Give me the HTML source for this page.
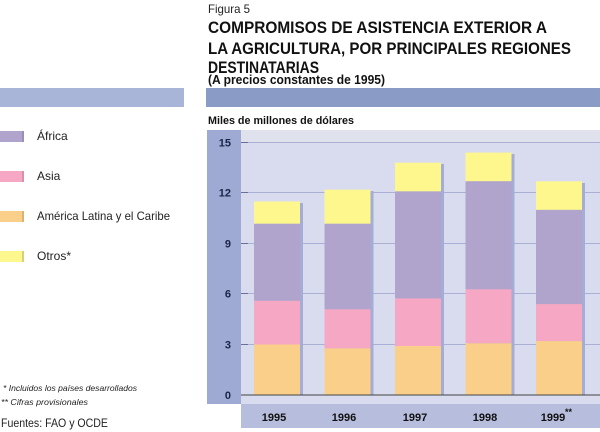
<!DOCTYPE html>
<html><head><meta charset="utf-8"><style>
html,body{margin:0;padding:0;background:#fff;}
svg{display:block;font-family:"Liberation Sans",sans-serif;}
</style></head><body>
<svg width="600" height="432" viewBox="0 0 600 432" xmlns="http://www.w3.org/2000/svg">
<rect width="600" height="432" fill="#fff"/>
<!-- Title -->
<text x="208" y="13" font-size="12" fill="#222" textLength="42" lengthAdjust="spacingAndGlyphs">Figura 5</text>
<text x="208" y="33" font-size="17" font-weight="bold" fill="#111" textLength="339" lengthAdjust="spacingAndGlyphs">COMPROMISOS DE ASISTENCIA EXTERIOR A</text>
<text x="208" y="54" font-size="17" font-weight="bold" fill="#111" textLength="363" lengthAdjust="spacingAndGlyphs">LA AGRICULTURA, POR PRINCIPALES REGIONES</text>
<text x="208" y="73" font-size="17" font-weight="bold" fill="#111" textLength="111" lengthAdjust="spacingAndGlyphs">DESTINATARIAS</text>
<text x="208" y="84" font-size="12.5" font-weight="bold" fill="#111" textLength="177" lengthAdjust="spacingAndGlyphs">(A precios constantes de 1995)</text>
<!-- bands -->
<rect x="0" y="88" width="184" height="19" fill="#a9b4d9"/>
<rect x="206" y="88" width="394" height="19" fill="#8a9cc6"/>
<text x="208" y="124" font-size="11" font-weight="bold" fill="#111" textLength="146" lengthAdjust="spacingAndGlyphs">Miles de millones de dólares</text>
<!-- legend -->
<rect x="0" y="131" width="24" height="11" fill="#b1a4cc"/>
<rect x="22" y="131" width="2" height="11" fill="#9a8fbb"/>
<text x="37" y="140" font-size="12" fill="#222">África</text>
<rect x="0" y="171" width="24" height="11" fill="#f5a7c3"/>
<rect x="22" y="171" width="2" height="11" fill="#d890ab"/>
<text x="37" y="180" font-size="12" fill="#222">Asia</text>
<rect x="0" y="211" width="24" height="11" fill="#f9cf89"/>
<rect x="22" y="211" width="2" height="11" fill="#d9b277"/>
<text x="37" y="220" font-size="12" fill="#222" textLength="133" lengthAdjust="spacingAndGlyphs">América Latina y el Caribe</text>
<rect x="0" y="251" width="24" height="11" fill="#fef78e"/>
<rect x="22" y="251" width="2" height="11" fill="#d6d07a"/>
<text x="37" y="260" font-size="12" fill="#222">Otros*</text>
<!-- chart frame -->
<rect x="207" y="130" width="34" height="274" fill="#9eaad3"/>
<rect x="241" y="130" width="359" height="274" fill="#d9dcee"/>
<rect x="241" y="130" width="359" height="12" fill="#dfe1ec"/>
<rect x="241" y="404" width="359" height="24" fill="#b7bddd"/>
<!-- gridlines -->
<g stroke="#a9b0d4" stroke-width="1">
<line x1="241" y1="142.5" x2="600" y2="142.5"/>
<line x1="241" y1="192.5" x2="600" y2="192.5"/>
<line x1="241" y1="243.5" x2="600" y2="243.5"/>
<line x1="241" y1="293.5" x2="600" y2="293.5"/>
<line x1="241" y1="344.5" x2="600" y2="344.5"/>
</g>
<g stroke="#6a7098" stroke-width="1">
<line x1="241" y1="142.5" x2="248" y2="142.5"/>
<line x1="241" y1="192.5" x2="248" y2="192.5"/>
<line x1="241" y1="243.5" x2="248" y2="243.5"/>
<line x1="241" y1="293.5" x2="248" y2="293.5"/>
<line x1="241" y1="344.5" x2="248" y2="344.5"/>
</g>
<!-- tick labels -->
<g font-size="11" font-weight="bold" fill="#1c2448" text-anchor="end">
<text x="231" y="146.5">15</text>
<text x="231" y="196.5">12</text>
<text x="231" y="247.5">9</text>
<text x="231" y="297.5">6</text>
<text x="231" y="348.5">3</text>
<text x="231" y="399">0</text>
</g>
<!-- bars: shadows -->
<g fill="#a3add6">
<rect x="256" y="203" width="47" height="192"/>
<rect x="326.5" y="191" width="47" height="204"/>
<rect x="397" y="164" width="47" height="231"/>
<rect x="467.5" y="154" width="47" height="241"/>
<rect x="538" y="183" width="47" height="212"/>
</g>
<!-- 1995 -->
<rect x="254" y="201.5" width="46" height="22.3" fill="#fef78e"/>
<rect x="254" y="223.8" width="46" height="77" fill="#b1a4cc"/>
<rect x="254" y="300.8" width="46" height="43.7" fill="#f5a7c3"/>
<rect x="254" y="344.5" width="46" height="50.5" fill="#f9cf89"/>
<!-- 1996 -->
<rect x="324.5" y="189.7" width="46" height="34.1" fill="#fef78e"/>
<rect x="324.5" y="223.8" width="46" height="85.5" fill="#b1a4cc"/>
<rect x="324.5" y="309.3" width="46" height="39.1" fill="#f5a7c3"/>
<rect x="324.5" y="348.4" width="46" height="46.6" fill="#f9cf89"/>
<!-- 1997 -->
<rect x="395" y="162.7" width="46" height="28.7" fill="#fef78e"/>
<rect x="395" y="191.4" width="46" height="107" fill="#b1a4cc"/>
<rect x="395" y="298.4" width="46" height="47.6" fill="#f5a7c3"/>
<rect x="395" y="346" width="46" height="49" fill="#f9cf89"/>
<!-- 1998 -->
<rect x="465.5" y="152.6" width="46" height="28.7" fill="#fef78e"/>
<rect x="465.5" y="181.3" width="46" height="108" fill="#b1a4cc"/>
<rect x="465.5" y="289.3" width="46" height="54" fill="#f5a7c3"/>
<rect x="465.5" y="343.3" width="46" height="51.7" fill="#f9cf89"/>
<!-- 1999 -->
<rect x="536" y="181.3" width="46" height="28.6" fill="#fef78e"/>
<rect x="536" y="209.9" width="46" height="94.2" fill="#b1a4cc"/>
<rect x="536" y="304.1" width="46" height="37" fill="#f5a7c3"/>
<rect x="536" y="341.1" width="46" height="53.9" fill="#f9cf89"/>
<!-- axis -->
<line x1="241" y1="395" x2="600" y2="395" stroke="#444" stroke-width="1"/>
<!-- x labels -->
<g font-size="11" font-weight="bold" fill="#111" text-anchor="middle">
<text x="274" y="421">1995</text>
<text x="344" y="421">1996</text>
<text x="415" y="421">1997</text>
<text x="485" y="421">1998</text>
<text x="553" y="421">1999</text>
</g>
<text x="565" y="415" font-size="9" font-weight="bold" fill="#111">**</text>
<!-- footnotes -->
<text x="3" y="391" font-size="8.5" font-style="italic" fill="#222" textLength="134" lengthAdjust="spacingAndGlyphs">*  Incluidos los países desarrollados</text>
<text x="1" y="405" font-size="8.5" font-style="italic" fill="#222" textLength="87" lengthAdjust="spacingAndGlyphs">**  Cifras provisionales</text>
<text x="1" y="427" font-size="11.5" fill="#222" textLength="107" lengthAdjust="spacingAndGlyphs">Fuentes: FAO y OCDE</text>
</svg>
</body></html>
